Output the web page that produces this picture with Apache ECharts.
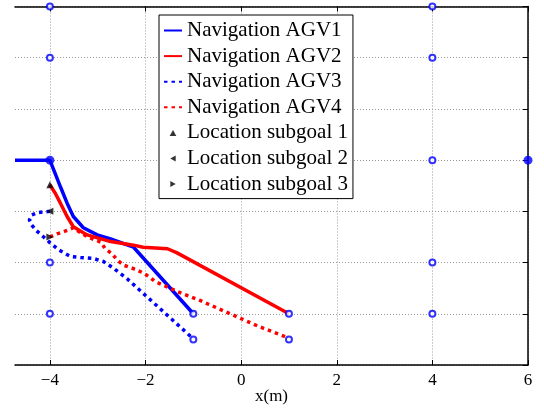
<!DOCTYPE html>
<html>
<head>
<meta charset="utf-8">
<script src="https://cdn.jsdelivr.net/npm/echarts@6/dist/echarts.min.js"></script>
<style>
  html, body { margin: 0; padding: 0; background: #fff; }
  #chart { width: 544px; height: 409px; }
</style>
</head>
<body>
<div id="chart"></div>
<script>
// x tick positions (labels drawn with a real minus sign)
const xTicks = [-4, -2, 0, 2, 4, 6];
const xRange = [-4.73, 6];
const yRange = [0, 7];

// trajectories, [x, y] in metres
const agv1 = [[-4.73, 4], [-4, 4], [-3.92, 3.81], [-3.78, 3.48], [-3.64, 3.16], [-3.51, 2.9],
    [-3.3, 2.68], [-3.01, 2.54], [-2.73, 2.46], [-2.25, 2.3], [-1, 1]];
const agv2 = [[-4, 3.52], [-3.88, 3.34], [-3.78, 3.16], [-3.64, 2.9], [-3.51, 2.7], [-3.22, 2.54],
    [-2.73, 2.41], [-2.25, 2.34], [-2.05, 2.3], [-1.54, 2.27], [-1.34, 2.19], [1, 1]];
const agv3 = [[-4, 3], [-4.13, 2.99], [-4.27, 2.97], [-4.38, 2.93], [-4.43, 2.83], [-4.38, 2.73],
    [-4.28, 2.62], [-4.13, 2.5], [-3.99, 2.38], [-3.82, 2.25], [-3.57, 2.12], [-3.36, 2.1],
    [-3.09, 2.08], [-2.88, 2.02], [-2.67, 1.89], [-2.38, 1.68], [-1, 0.51]];
const agv4 = [[-4, 2.5], [-3.85, 2.56], [-3.72, 2.6], [-3.61, 2.64], [-3.51, 2.68], [-3.42, 2.62],
    [-3.21, 2.5], [-2.94, 2.4], [-2.84, 2.27], [-2.7, 2.17], [-2.59, 2.05], [-2.46, 1.95],
    [-2.25, 1.88], [-2.05, 1.8], [-1.92, 1.72], [-1.8, 1.63], [-1.63, 1.56], [-1.32, 1.43],
    [-0.86, 1.26], [-0.23, 1.0], [0.35, 0.76], [0.98, 0.53]];

// goal points
const openGoals = [[-4, 7], [4, 7], [-4, 6], [4, 6], [4, 4], [-4, 2], [4, 2], [-4, 1], [4, 1],
    [-1, 1], [-1, 0.5], [1, 1], [1, 0.5]];
const filledGoals = [[-4, 4], [6, 4]];

// subgoal locations
const subgoal1 = [[-4, 3.52]];
const subgoal2 = [[-4, 3.0]];
const subgoal3 = [[-4, 2.5]];

const serif = 'Liberation Serif';
const chart = echarts.init(document.getElementById('chart'));

// plot box in pixels; the left frame is cropped off, as in the figure
const plotLeft = 15, plotRight = 16, plotTop = 6.5, plotBottom = 44;
// a second, hidden grid spanning -6..6 draws the vertical grid lines at the even ticks
const pxPerUnit = (544 - plotLeft - plotRight) / (xRange[1] - xRange[0]);
const gridLeftWide = plotLeft - (xRange[0] + 6) * pxPerUnit;

function fmtTick(v) {
    return v < 0 ? '\u2212' + Math.abs(v) : String(v);
}

const dotted = [3.5, 4];
const gridLine = { color: '#999', type: [1, 2], width: 1 };
// hide the little circle ECharts puts on line legend icons
const noSymbol = { opacity: 0 };

chart.setOption({
    animation: false,
    grid: [
        { left: plotLeft, right: plotRight, top: plotTop, bottom: plotBottom, outerBoundsMode: 'none', containLabel: false },
        { left: gridLeftWide, right: plotRight, top: plotTop, bottom: plotBottom, outerBoundsMode: 'none', containLabel: false }
    ],
    legend: {
        orient: 'vertical',
        left: 159,
        top: 15,
        padding: [5, 5, 4, 4],
        itemWidth: 18,
        itemHeight: 6,
        itemGap: 4.6,
        itemTextGap: 5,
        backgroundColor: '#fff',
        borderColor: '#000',
        borderWidth: 1,
        borderRadius: 0,
        z: 10,
        textStyle: { fontFamily: serif, fontSize: 21, lineHeight: 21, color: '#000' },
        data: [
            { name: 'Navigation AGV1', itemStyle: noSymbol },
            { name: 'Navigation AGV2', itemStyle: noSymbol },
            { name: 'Navigation AGV3', itemStyle: noSymbol },
            { name: 'Navigation AGV4', itemStyle: noSymbol },
            { name: 'Location subgoal 1', icon: 'path://M5,0L10,9L0,9Z' },
            { name: 'Location subgoal 2', icon: 'path://M0,5L9,0L9,10Z' },
            { name: 'Location subgoal 3', icon: 'path://M0,0L9,5L0,10Z' }
        ]
    },
    xAxis: [
        {
            type: 'value',
            gridIndex: 0,
            min: xRange[0],
            max: xRange[1],
            name: 'x(m)',
            nameLocation: 'middle',
            nameGap: 23,
            nameMoveOverlap: false,
            nameTextStyle: { fontFamily: serif, fontSize: 17, color: '#000' },
            axisLine: { onZero: false, lineStyle: { color: '#000', width: 1.5 } },
            axisTick: { inside: true, length: 5, customValues: xTicks, lineStyle: { color: '#000' } },
            axisLabel: {
                customValues: xTicks,
                formatter: fmtTick,
                fontFamily: serif, fontSize: 17, color: '#000', margin: 7
            },
            splitLine: { show: false }
        },
        {
            type: 'value',
            gridIndex: 0,
            position: 'top',
            min: xRange[0],
            max: xRange[1],
            axisLine: { onZero: false, lineStyle: { color: '#000', width: 1.5 } },
            axisTick: { inside: true, length: 5, customValues: xTicks, lineStyle: { color: '#000' } },
            axisLabel: { show: false },
            splitLine: { show: false }
        },
        {
            // only for the vertical dotted grid lines
            type: 'value',
            gridIndex: 1,
            min: -6,
            max: 6,
            interval: 2,
            z: 0,
            axisLine: { show: false },
            axisTick: { show: false },
            axisLabel: { show: false },
            splitLine: { show: true, lineStyle: gridLine }
        }
    ],
    yAxis: [
        {
            type: 'value',
            gridIndex: 0,
            position: 'right',
            min: yRange[0],
            max: yRange[1],
            interval: 1,
            axisLine: { show: true, onZero: false, lineStyle: { color: '#000', width: 1.5 } },
            axisTick: { show: true, inside: true, length: 5, lineStyle: { color: '#000' } },
            axisLabel: { show: false },
            splitLine: { show: true, lineStyle: gridLine }
        },
        {
            type: 'value',
            gridIndex: 1,
            min: yRange[0],
            max: yRange[1],
            show: false
        }
    ],
    series: [
        {
            name: 'Navigation AGV1', type: 'line', data: agv1, symbol: 'none', z: 2,
            lineStyle: { color: '#0000ff', width: 3.5 }, itemStyle: { color: '#0000ff' }
        },
        {
            name: 'Navigation AGV2', type: 'line', data: agv2, symbol: 'none', z: 2,
            lineStyle: { color: '#ff0000', width: 3.5 }, itemStyle: { color: '#ff0000' }
        },
        {
            name: 'Navigation AGV3', type: 'line', data: agv3, symbol: 'none', z: 2,
            lineStyle: { color: '#0000ff', width: 3.5, type: dotted }, itemStyle: { color: '#0000ff' }
        },
        {
            name: 'Navigation AGV4', type: 'line', data: agv4, symbol: 'none', z: 2,
            lineStyle: { color: '#ff0000', width: 3.5, type: dotted }, itemStyle: { color: '#ff0000' }
        },
        {
            name: 'Goals', type: 'scatter', data: openGoals, clip: false,
            symbol: 'circle', symbolSize: 6,
            itemStyle: { color: '#fff', borderColor: '#0000ff', borderWidth: 2 }, z: 3
        },
        {
            name: 'Goals filled', type: 'scatter', data: filledGoals, clip: false,
            symbol: 'circle', symbolSize: 9,
            itemStyle: { color: '#0000ff' }, z: 3
        },
        {
            name: 'Location subgoal 1', type: 'scatter', data: subgoal1,
            symbol: 'triangle', symbolSize: 7, itemStyle: { color: '#000' }, z: 4
        },
        {
            name: 'Location subgoal 2', type: 'scatter', data: subgoal2,
            symbol: 'triangle', symbolSize: 7, symbolRotate: 90, itemStyle: { color: '#000' }, z: 4
        },
        {
            name: 'Location subgoal 3', type: 'scatter', data: subgoal3,
            symbol: 'triangle', symbolSize: 7, symbolRotate: -90, itemStyle: { color: '#000' }, z: 4
        }
    ]
});

window.addEventListener('resize', function () {
    chart.resize();
});
</script>
</body>
</html>
